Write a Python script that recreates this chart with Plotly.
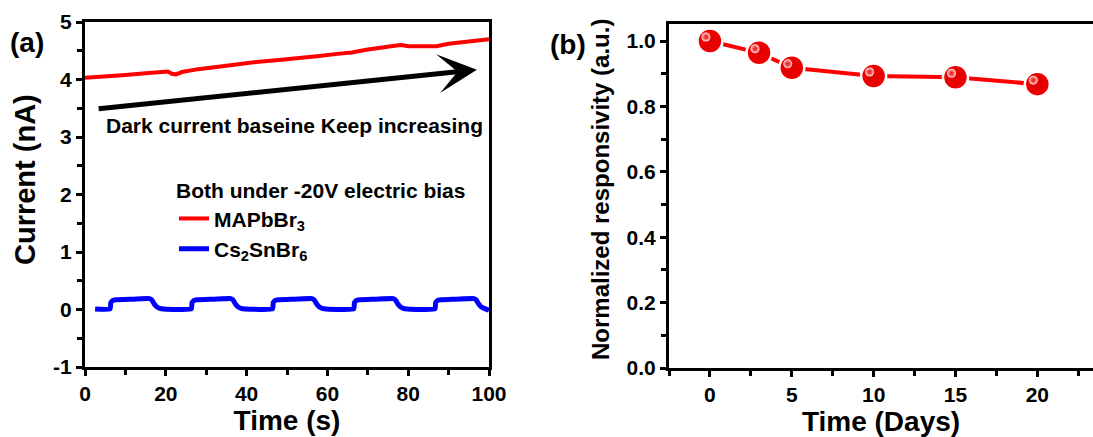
import plotly.graph_objects as go

# ---- Panel (a) data ----
mapb_t = [0, 5, 10, 15, 19, 20.5, 21.5, 22.5, 24, 28, 33, 38, 43, 48, 53, 58, 63, 66, 70, 74, 78, 79, 80, 83, 87, 90, 94, 97, 100]
mapb_i = [4.03, 4.05, 4.08, 4.11, 4.14, 4.14, 4.10, 4.09, 4.13, 4.18, 4.22, 4.27, 4.31, 4.34, 4.37, 4.41, 4.45, 4.47, 4.52, 4.56, 4.60, 4.59, 4.58, 4.58, 4.58, 4.62, 4.65, 4.68, 4.70]

cs_t = [2.5, 6.2, 6.4, 6.9, 7.6, 12, 16.0, 16.5, 17.1, 17.7, 18.5, 19.5,
        26.3, 26.5, 27.0, 27.7, 32, 36.1, 36.6, 37.2, 37.8, 38.6, 39.6,
        46.4, 46.6, 47.1, 47.8, 52, 56.2, 56.7, 57.3, 57.9, 58.7, 59.7,
        66.5, 66.7, 67.2, 67.9, 72, 76.3, 76.8, 77.4, 78.0, 78.8, 79.8,
        86.6, 86.8, 87.3, 88.0, 92, 96.3, 96.8, 97.4, 98.0, 98.8, 100]
cs_i = [0.01, 0.01, 0.12, 0.16, 0.17, 0.18, 0.19, 0.17, 0.10, 0.05, 0.02, 0.01,
        0.01, 0.12, 0.16, 0.17, 0.18, 0.19, 0.17, 0.10, 0.05, 0.02, 0.01,
        0.01, 0.12, 0.16, 0.17, 0.18, 0.19, 0.17, 0.10, 0.05, 0.02, 0.01,
        0.01, 0.12, 0.16, 0.17, 0.18, 0.19, 0.17, 0.10, 0.05, 0.02, 0.01,
        0.01, 0.12, 0.16, 0.17, 0.18, 0.19, 0.17, 0.10, 0.05, 0.02, -0.01]

# ---- Panel (b) data ----
days = [0, 3, 5, 10, 15, 20]
resp = [1.0, 0.964, 0.918, 0.893, 0.889, 0.868]

xa_ticks = [0, 20, 40, 60, 80, 100]
xa_labels = ["0", "20", "40", "60", "80", "100"]
ya_ticks = [-1, 0, 1, 2, 3, 4, 5]
ya_labels = ["-1", "0", "1", "2", "3", "4", "5"]
xb_ticks = [0, 5, 10, 15, 20]
xb_labels = ["0", "5", "10", "15", "20"]
yb_ticks = [0.0, 0.2, 0.4, 0.6, 0.8, 1.0]
yb_labels = ["0.0", "0.2", "0.4", "0.6", "0.8", "1.0"]

FONT = "Liberation Sans, Arial, sans-serif"
W, H = 1093, 437


def bold(labels):
    return ["<b>%s</b>" % s for s in labels]


fig = go.Figure()

fig.add_trace(go.Scatter(x=mapb_t, y=mapb_i, mode="lines", name="<b>MAPbBr<sub>3</sub></b>",
                         line=dict(color="#ff0000", width=4), xaxis="x", yaxis="y"))
fig.add_trace(go.Scatter(x=cs_t, y=cs_i, mode="lines", name="<b>Cs<sub>2</sub>SnBr<sub>6</sub></b>",
                         line=dict(color="#0000ff", width=5, shape="spline", smoothing=0.4),
                         xaxis="x", yaxis="y"))

fig.add_trace(go.Scatter(x=days, y=resp, mode="lines+markers", showlegend=False,
                         line=dict(color="#ff0000", width=4),
                         marker=dict(size=25, color="#f00000",
                                     gradient=dict(type="radial", color="#e00000"),
                                     line=dict(color="white", width=2.5)),
                         xaxis="x2", yaxis="y2"))
# highlight overlay (same data on a slightly shifted overlay axis)
fig.add_trace(go.Scatter(x=days, y=resp, mode="markers", showlegend=False,
                         marker=dict(size=9, color="rgba(255,235,235,1)",
                                     gradient=dict(type="radial", color="rgba(255,60,60,0.3)"),
                                     line=dict(width=0)),
                         xaxis="x3", yaxis="y3", hoverinfo="skip"))

minor_style = dict(ticks="outside", ticklen=5, tickwidth=2.5, tickcolor="black")
ax_common = dict(showline=True, linecolor="black", linewidth=3, ticks="outside",
                 tickwidth=2.5, ticklen=6, tickcolor="black", showgrid=False, zeroline=False,
                 tickfont=dict(family=FONT, size=21, color="black"))

xa_dom = [85 / W, 489 / W]
ya_dom = [1 - 367 / H, 1 - 22 / H]
xb_dom = [669 / W, 1.0]
yb_dom = [1 - 368 / H, 1 - 24 / H]

xb_range = [-2.5, 23.4]
yb_range = [0.0, 1.052]
dx = 4 * (xb_range[1] - xb_range[0]) / ((xb_dom[1] - xb_dom[0]) * W)
dy = 4 * (yb_range[1] - yb_range[0]) / ((yb_dom[1] - yb_dom[0]) * H)

fig.update_layout(
    width=W, height=H, margin=dict(l=0, r=0, t=0, b=0, autoexpand=False),
    plot_bgcolor="white", paper_bgcolor="white",
    font=dict(family=FONT, color="black"),
    xaxis=dict(domain=xa_dom, range=[0, 100], tickvals=xa_ticks, ticktext=bold(xa_labels), mirror=True,
               minor=dict(tickvals=[10, 30, 50, 70, 90], **minor_style),
               title=dict(text="<b>Time (s)</b>", font=dict(size=28), standoff=0),
               anchor="y", **ax_common),
    yaxis=dict(domain=ya_dom, range=[-1, 5], tickvals=ya_ticks, ticktext=bold(ya_labels), mirror=True,
               minor=dict(tickvals=[-0.5, 0.5, 1.5, 2.5, 3.5, 4.5], **minor_style),
               anchor="x", **ax_common),
    xaxis2=dict(domain=xb_dom, range=xb_range, tickvals=xb_ticks, ticktext=bold(xb_labels), mirror=True,
                minor=dict(tickvals=[-2.5, 2.5, 7.5, 12.5, 17.5, 22.5], **minor_style),
                title=dict(text="<b>Time (Days)</b>", font=dict(size=28), standoff=0),
                anchor="y2", **ax_common),
    yaxis2=dict(domain=yb_dom, range=yb_range, tickvals=yb_ticks, ticktext=bold(yb_labels), mirror=False,
                minor=dict(tickvals=[0.1, 0.3, 0.5, 0.7, 0.9], **minor_style),
                anchor="x2", **ax_common),
    xaxis3=dict(domain=xb_dom, range=[xb_range[0] + dx, xb_range[1] + dx], overlaying="x2",
                visible=False, anchor="y3"),
    yaxis3=dict(domain=yb_dom, range=[yb_range[0] - dy, yb_range[1] - dy], overlaying="y2",
                visible=False, anchor="x3"),
    legend=dict(x=174 / W, y=1 - 171 / H, xanchor="left", yanchor="top",
                bgcolor="rgba(0,0,0,0)", tracegroupgap=0,
                font=dict(family=FONT, size=21, color="black"),
                title=dict(text="<b>Both under -20V electric bias</b>",
                           font=dict(family=FONT, size=21, color="black"), side="top"),
                itemwidth=30),
    showlegend=True,
)

fig.add_annotation(x=97, y=4.17, ax=3, ay=3.49, xref="x", yref="y", axref="x", ayref="y",
                   showarrow=True, arrowhead=3, arrowsize=1.3, arrowwidth=5, arrowcolor="black",
                   text="")
fig.add_annotation(x=51.8, y=3.2, xref="x", yref="y", text="<b>Dark current baseine Keep increasing</b>",
                   showarrow=False, font=dict(family=FONT, size=21, color="black"))
# y-axis titles as rotated text
fig.add_annotation(x=25 / W, y=1 - 180 / H, xref="paper", yref="paper", text="<b>Current (nA)</b>",
                   textangle=-90, showarrow=False, xanchor="center", yanchor="middle",
                   font=dict(family=FONT, size=29, color="black"))
fig.add_annotation(x=601 / W, y=1 - 190 / H, xref="paper", yref="paper",
                   text="<b>Normalized responsivity (a.u.)</b>",
                   textangle=-90, showarrow=False, xanchor="center", yanchor="middle",
                   font=dict(family=FONT, size=24, color="black"))
fig.add_annotation(x=27 / W, y=1 - 42 / H, xref="paper", yref="paper", text="<b>(a)</b>", showarrow=False,
                   xanchor="center", yanchor="middle",
                   font=dict(family=FONT, size=28, color="black"))
fig.add_annotation(x=568 / W, y=1 - 44 / H, xref="paper", yref="paper", text="<b>(b)</b>", showarrow=False,
                   xanchor="center", yanchor="middle",
                   font=dict(family=FONT, size=28, color="black"))

fig.write_html("out.html")
